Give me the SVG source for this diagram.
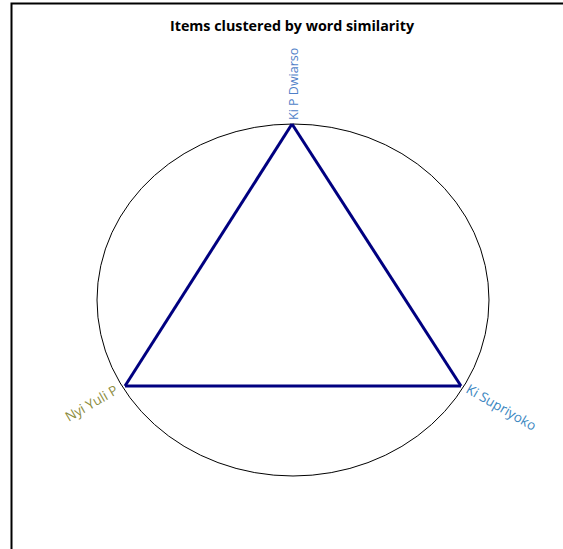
<svg xmlns="http://www.w3.org/2000/svg" width="563" height="549" viewBox="0 0 563 549">
<style>
.title{font-family:"Open Sans","Noto Sans",sans-serif;font-weight:bold;font-size:14.3px;fill:#000}
.lbl{font-family:"Open Sans","Noto Sans",sans-serif;font-size:13.5px}
.lbl.v{font-size:12.5px}
</style>
<rect x="0" y="0" width="563" height="549" fill="#fff"/>
<path d="M11.5 549 V3.5 H563" fill="none" stroke="#000" stroke-width="2"/>
<text class="title" x="292" y="31" text-anchor="middle">Items clustered by word similarity</text>
<g id="circle"><ellipse cx="293" cy="300" rx="196" ry="176" fill="none" stroke="#000" stroke-width="1"/></g>
<g id="connectors" stroke="#000080" stroke-width="3" fill="none" stroke-linejoin="round">
<path d="M292 124 L125 386"/>
<path d="M125 386 L461 386"/>
<path d="M461 386 L292 124"/>
</g>
<g id="node-kipdwiarso"><text class="lbl v" x="0" y="0" fill="#4f7fc8" transform="translate(298,120) rotate(-90)">Ki P Dwiarso</text></g>
<g id="node-nyiyulip"><text class="lbl" x="0" y="0" fill="#8c8c3c" text-anchor="end" transform="translate(119,393) rotate(-30)">Nyi Yuli P</text></g>
<g id="node-kisupriyoko"><text class="lbl" x="0" y="0" fill="#3a86bf" transform="translate(465,392) rotate(30)">Ki Supriyoko</text></g>
</svg>
